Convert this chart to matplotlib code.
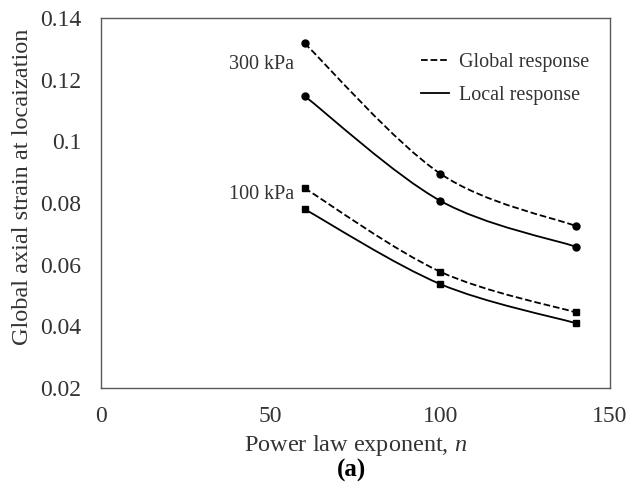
import matplotlib.pyplot as plt
import numpy as np
from matplotlib.path import Path
from matplotlib.patches import PathPatch
from matplotlib.lines import Line2D

plt.rcParams['font.family'] = ['Liberation Serif', 'DejaVu Serif']
plt.rcParams['mathtext.fontset'] = 'custom'
plt.rcParams['mathtext.rm'] = 'Liberation Serif'
plt.rcParams['mathtext.it'] = 'Liberation Serif:italic'

n_exp = [60, 100, 140]
global_300 = [0.1318, 0.0895, 0.0725]
local_300 = [0.1147, 0.0807, 0.0658]
global_100 = [0.0848, 0.0577, 0.0445]
local_100 = [0.0780, 0.0537, 0.0410]


def smooth_path(xs, ys):
    # Catmull-Rom style cubic Bezier through the points (like a spreadsheet "smoothed line")
    p = np.column_stack([xs, ys]).astype(float)
    ext = np.vstack([p[0], p, p[-1]])
    verts = [p[0]]
    codes = [Path.MOVETO]
    for i in range(1, len(ext) - 2):
        p0, p1, p2, p3 = ext[i - 1], ext[i], ext[i + 1], ext[i + 2]
        c1 = p1 + (p2 - p0) / 6.0
        c2 = p2 - (p3 - p1) / 6.0
        verts += [c1, c2, p2]
        codes += [Path.CURVE4] * 3
    return Path(verts, codes)


fig = plt.figure(figsize=(6.28, 4.92), dpi=100)
ax = fig.add_axes([101 / 628, 1 - 388 / 492, 509 / 628, 370 / 492])

series = [
    (global_300, '--', 'o', 5),
    (local_300, '-', 'o', 5),
    (global_100, '--', 's', 5),
    (local_100, '-', 's', 5),
]
for ys, ls, mk, ms in series:
    patch = PathPatch(smooth_path(n_exp, ys), fill=False, edgecolor='black',
                      linestyle=ls, linewidth=1.3)
    ax.add_patch(patch)
    ax.plot(n_exp, ys, linestyle='none', marker=mk, color='black', markersize=ms)

ax.set_xlim(0, 150)
ax.set_ylim(0.02, 0.14)
ax.set_xticks([0, 50, 100, 150])
ax.set_yticks([0.02, 0.04, 0.06, 0.08, 0.1, 0.12, 0.14])
ax.set_yticklabels(['0.02', '0.04', '0.06', '0.08', '0.1', '0.12', '0.14'])
ax.tick_params(length=0, labelsize=17, colors='#333333')
ax.tick_params(axis='y', pad=14)
ax.tick_params(axis='x', pad=13)
for s in ax.spines.values():
    s.set_color('#595959')
    s.set_linewidth(1.0)

ax.set_xlabel('Power law exponent, $\\mathit{n}$', fontsize=17.5, color='#333333', labelpad=4)
ax.set_ylabel('Global axial strain at locaization', fontsize=17.5, color='#333333')
ax.yaxis.set_label_coords(-0.133, 0.543)

ax.text(57, 0.1248, '300 kPa', ha='right', va='center', fontsize=14.5, color='#333333')
ax.text(57, 0.0829, '100 kPa', ha='right', va='center', fontsize=14.5, color='#333333')

handles = [
    Line2D([0], [0], color='black', linestyle='--', linewidth=1.3, label='Global response'),
    Line2D([0], [0], color='black', linestyle='-', linewidth=1.3, label='Local response'),
]
leg = ax.legend(handles=handles, loc='upper right', frameon=False, fontsize=14.5,
                handlelength=1.4, handletextpad=0.5, bbox_to_anchor=(0.995, 0.955),
                labelspacing=0.7)
for t in leg.get_texts():
    t.set_color('#333333')

fig.text(352 / 628, 1 - 470 / 492, '(a)', ha='center', va='center',
         fontsize=18, fontweight='bold')

fig.savefig('out.png', dpi=100)
